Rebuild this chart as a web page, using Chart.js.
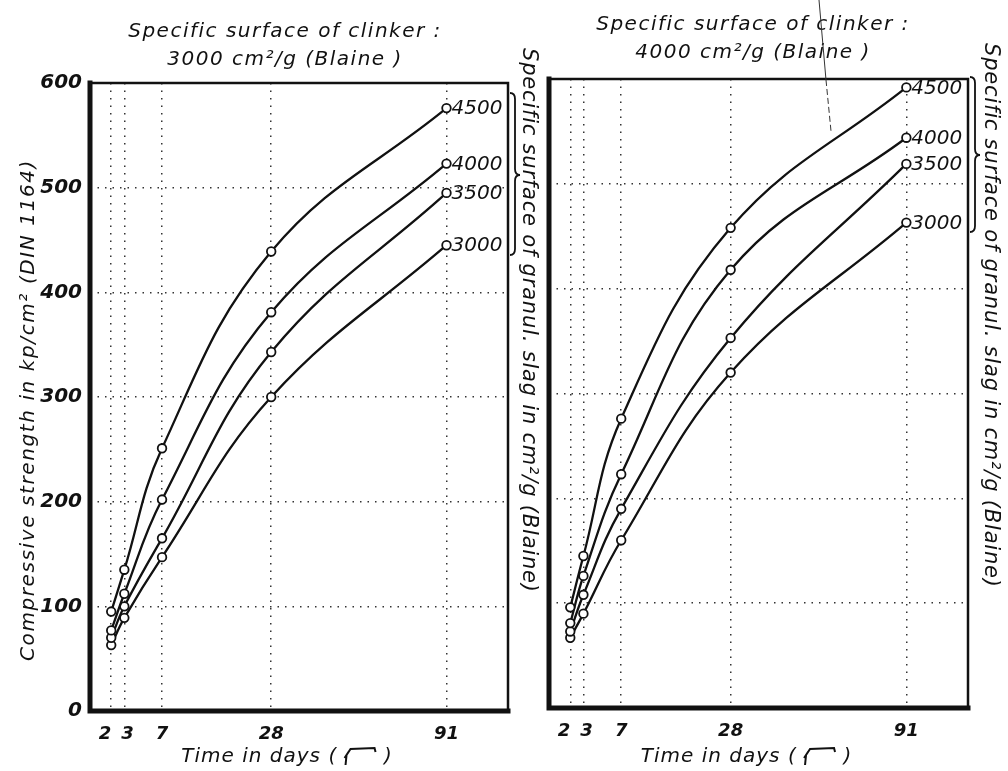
<!DOCTYPE html>
<html>
<head>
<meta charset="utf-8">
<title>Compressive strength of slag cement</title>
<script src="https://cdn.jsdelivr.net/npm/chart.js@4.4.0/dist/chart.umd.min.js"></script>
<style>
  html, body { margin: 0; padding: 0; background: #fff; }
  #wrap { position: relative; width: 1008px; height: 771px; }
  #wrap canvas { position: absolute; left: 0; top: 0; }
</style>
</head>
<body>
<div id="wrap">
  <canvas id="leftChart" width="1008" height="771"></canvas>
  <canvas id="rightChart" width="1008" height="771"></canvas>
</div>
<script>
// test ages (days), plotted on a square-root time axis
const days = [2, 3, 7, 28, 91];
const slagSurfaces = ['4500', '4000', '3500', '3000'];
const strengthMin = 0;
const strengthMax = 600;
const strengthStep = 100;

// clinker 3000 cm²/g, strength in kp/cm² per slag fineness
const clinker3000_slag4500 = [95, 135, 251, 439, 576];
const clinker3000_slag4000 = [77, 112, 202, 381, 523];
const clinker3000_slag3500 = [70, 100, 165, 343, 495];
const clinker3000_slag3000 = [63, 89, 147, 300, 445];

// clinker 4000 cm²/g
const clinker4000_slag4500 = [96, 145, 276, 458, 592];
const clinker4000_slag4000 = [81, 126, 223, 418, 544];
const clinker4000_slag3500 = [73, 108, 190, 353, 519];
const clinker4000_slag3000 = [67, 90, 160, 320, 463];

const INK = '#111';
const FONT = '"DejaVu Sans", "Liberation Sans", sans-serif';
const W = 1008, H = 771;

function italic(size, weight) {
  return (weight ? weight + ' ' : '') + 'oblique ' + size + 'px ' + FONT;
}

function drawBrace(ctx, x, top, bottom, mid, depth) {
  const h = depth * 0.5;
  ctx.beginPath();
  ctx.moveTo(x, top);
  ctx.quadraticCurveTo(x + h, top, x + h, top + 6);
  ctx.lineTo(x + h, mid - 6);
  ctx.quadraticCurveTo(x + h, mid, x + depth, mid);
  ctx.quadraticCurveTo(x + h, mid, x + h, mid + 6);
  ctx.lineTo(x + h, bottom - 6);
  ctx.quadraticCurveTo(x + h, bottom, x, bottom);
  ctx.stroke();
}

// "Time in days ( √‾‾ )" with a hand-drawn radical
function drawTimeTitle(ctx, cx, cy) {
  ctx.font = italic(20);
  ctx.letterSpacing = '1px';
  const a = 'Time in days ( ';
  const b = ' )';
  const rootW = 32;
  const wa = ctx.measureText(a).width;
  const wb = ctx.measureText(b).width;
  let x = cx - (wa + rootW + wb) / 2;
  ctx.textAlign = 'left';
  ctx.textBaseline = 'middle';
  ctx.fillText(a, x, cy);
  x += wa;
  ctx.lineWidth = 2;
  ctx.beginPath();
  ctx.moveTo(x, cy + 1);
  ctx.lineTo(x + 2, cy - 2);
  ctx.lineTo(x + 1, cy + 8);
  ctx.moveTo(x + 2, cy - 2);
  ctx.lineTo(x + 6, cy - 8);
  ctx.lineTo(x + rootW - 2, cy - 9);
  ctx.lineTo(x + rootW - 1, cy - 5);
  ctx.stroke();
  ctx.fillText(b, x + rootW, cy);
  ctx.letterSpacing = '0px';
}

const panelDecor = {
  id: 'panelDecor',
  beforeDatasetsDraw(chart, args, o) {
    const { ctx, chartArea: a } = chart;
    ctx.save();
    ctx.strokeStyle = INK;
    ctx.lineWidth = 2.5;
    ctx.strokeRect(a.left, a.top, a.right - a.left, a.bottom - a.top);
    ctx.lineCap = 'square';
    ctx.lineWidth = 5;
    ctx.beginPath();
    ctx.moveTo(a.left, a.top);
    ctx.lineTo(a.left, a.bottom);
    ctx.lineTo(a.right, a.bottom);
    ctx.stroke();
    ctx.restore();
  },
  afterDraw(chart, args, o) {
    const { ctx, chartArea: a } = chart;
    ctx.save();
    ctx.fillStyle = INK;
    ctx.strokeStyle = INK;

    // clinker title
    ctx.font = italic(20);
    ctx.letterSpacing = '1.5px';
    ctx.textAlign = 'center';
    ctx.textBaseline = 'middle';
    ctx.fillText('Specific surface of clinker :', o.titleX, o.titleY);
    ctx.fillText(o.clinker + ' cm²/g (Blaine )', o.titleX, o.titleY + 28);
    ctx.letterSpacing = '0px';

    // slag fineness next to the 91-day points
    ctx.font = italic(20);
    ctx.textAlign = 'left';
    chart.data.datasets.forEach((ds, i) => {
      const pts = chart.getDatasetMeta(i).data;
      const p = pts[pts.length - 1];
      ctx.fillText(ds.label, p.x + 5, p.y + 1);
    });

    // brace and rotated slag caption on the right
    ctx.lineWidth = 1.8;
    drawBrace(ctx, a.right + 2, o.braceTop, o.braceBottom, o.braceMid, 10);
    ctx.save();
    ctx.translate(o.sideX, o.sideY);
    ctx.rotate(Math.PI / 2);
    ctx.font = italic(21);
    ctx.letterSpacing = '0.8px';
    ctx.textAlign = 'left';
    ctx.textBaseline = 'middle';
    ctx.fillText('Specific surface of granul. slag in cm²/g (Blaine)', 0, 0);
    ctx.restore();

    // y axis caption
    if (o.yTitle) {
      ctx.save();
      ctx.translate(29, 410);
      ctx.rotate(-Math.PI / 2);
      ctx.font = italic(20);
      ctx.letterSpacing = '1.6px';
      ctx.textAlign = 'center';
      ctx.textBaseline = 'middle';
      ctx.fillText(o.yTitle, 0, 0);
      ctx.restore();
    }

    drawTimeTitle(ctx, (a.left + a.right) / 2 - 12, 757);

    if (o.leader) {
      ctx.lineWidth = 1;
      ctx.strokeStyle = '#333';
      ctx.beginPath();
      ctx.moveTo(819, 0);
      ctx.lineTo(826, 80);
      ctx.stroke();
      ctx.setLineDash([6, 3]);
      ctx.beginPath();
      ctx.moveTo(826, 80);
      ctx.lineTo(831, 131);
      ctx.stroke();
    }
    ctx.restore();
  }
};

// the first two ages sit close together, so nudge their labels apart
function dayLabel(i) {
  if (i === 0) return days[i] + '  ';
  if (i === 1) return ' ' + days[i];
  return String(days[i]);
}

function makePanel(id, series, area, decor, showYLabels) {
  const datasets = series.map((values, i) => ({
    label: slagSurfaces[i],
    data: days.map((d, j) => ({ x: Math.sqrt(d), y: values[j] })),
    borderColor: INK,
    borderWidth: 2.3,
    tension: 0.4,
    pointRadius: 4.3,
    pointBorderWidth: 1.8,
    pointBackgroundColor: '#fff',
    pointBorderColor: INK,
    fill: false
  }));

  return new Chart(document.getElementById(id), {
    type: 'line',
    data: { datasets },
    plugins: [panelDecor],
    options: {
      responsive: false,
      animation: false,
      devicePixelRatio: 1,
      layout: { padding: { left: 0, top: area.top, right: W - area.right, bottom: 0 } },
      plugins: {
        legend: { display: false },
        tooltip: { enabled: false },
        panelDecor: decor
      },
      scales: {
        x: {
          type: 'linear',
          min: 0.9,
          max: 11.03,
          afterFit: s => { s.height = H - area.bottom; },
          afterBuildTicks: s => { s.ticks = days.map(d => ({ value: Math.sqrt(d) })); },
          grid: { drawTicks: false, color: '#333', lineWidth: 1.5 },
          border: { display: false, dash: [1.5, 6] },
          ticks: {
            padding: 13,
            color: INK,
            font: { family: FONT, size: 18, style: 'oblique', weight: 'bold' },
            callback: (v, i) => dayLabel(i)
          }
        },
        y: {
          min: strengthMin,
          max: strengthMax,
          afterFit: s => { s.width = area.left; },
          grid: {
            drawTicks: false,
            lineWidth: 1.5,
            color: c => (c.tick.value === strengthMin || c.tick.value === strengthMax) ? 'rgba(0,0,0,0)' : '#333'
          },
          border: { display: false, dash: [1.5, 6] },
          ticks: {
            display: showYLabels,
            stepSize: strengthStep,
            padding: 8,
            color: INK,
            font: { family: FONT, size: 20, style: 'oblique', weight: 'bold' }
          }
        }
      }
    }
  });
}

makePanel('leftChart',
  [clinker3000_slag4500, clinker3000_slag4000, clinker3000_slag3500, clinker3000_slag3000],
  { left: 90, top: 83, right: 508, bottom: 711 },
  { clinker: '3000', titleX: 285, titleY: 32, braceTop: 93, braceBottom: 255, braceMid: 175,
    sideX: 528, sideY: 48, yTitle: 'Compressive strength in kp/cm² (DIN 1164)' },
  true);

makePanel('rightChart',
  [clinker4000_slag4500, clinker4000_slag4000, clinker4000_slag3500, clinker4000_slag3000],
  { left: 549, top: 79, right: 968, bottom: 708 },
  { clinker: '4000', titleX: 753, titleY: 25, braceTop: 77, braceBottom: 232, braceMid: 155,
    sideX: 990, sideY: 43, leader: true },
  false);
</script>
</body>
</html>
